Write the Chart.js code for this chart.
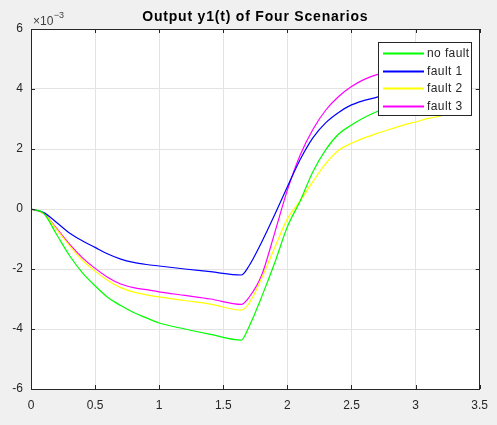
<!DOCTYPE html>
<html>
<head>
<meta charset="utf-8">
<script src="https://cdn.jsdelivr.net/npm/chart.js@4"></script>
<style>
html,body{margin:0;padding:0;background:#f0f0f0;}
#wrap{position:relative;width:497px;height:425px;}
canvas{display:block;}
</style>
</head>
<body>
<div id="wrap"><canvas id="c" width="497" height="425"></canvas></div>
<script>
// time axis (s)
const time = [0, 0.1, 0.2, 0.3, 0.4, 0.5, 0.6, 0.7, 0.8, 0.9, 1.0, 1.2, 1.4, 1.64, 1.7, 1.8, 1.9, 2.0, 2.1, 2.2, 2.3, 2.4, 2.5, 2.6, 2.7, 2.8, 2.9, 3.0, 3.1, 3.2];
// y1(t) in units of 1e-3
const noFault = [0, -0.15, -0.85, -1.55, -2.12, -2.56, -2.95, -3.22, -3.45, -3.63, -3.8, -4.0, -4.18, -4.37, -3.93, -2.92, -1.81, -0.59, 0.27, 1.25, 1.98, 2.5, 2.8, 3.05, 3.25, 3.42, 3.56, 3.67, 3.76, 3.83];
const fault1 = [0, -0.12, -0.45, -0.8, -1.06, -1.28, -1.5, -1.67, -1.78, -1.85, -1.9, -2.0, -2.09, -2.2, -1.9, -1.1, -0.2, 0.74, 1.65, 2.38, 2.88, 3.22, 3.47, 3.62, 3.73, 3.86, 3.96, 4.04, 4.1, 4.15];
const fault2 = [0, -0.15, -0.68, -1.22, -1.7, -2.07, -2.38, -2.62, -2.77, -2.86, -2.93, -3.05, -3.17, -3.37, -3.15, -2.3, -1.3, -0.33, 0.27, 0.92, 1.52, 1.96, 2.19, 2.37, 2.52, 2.66, 2.79, 2.9, 3.02, 3.1];
const fault3 = [0, -0.15, -0.65, -1.17, -1.62, -1.98, -2.28, -2.5, -2.62, -2.69, -2.76, -2.88, -3.0, -3.18, -2.95, -2.2, -0.81, 0.63, 1.8, 2.66, 3.3, 3.75, 4.08, 4.32, 4.48, 4.6, 4.7, 4.77, 4.82, 4.86];
const seriesNames = ["no fault", "fault 1", "fault 2", "fault 3"];
const seriesColors = ["#00ff00", "#0000ff", "#ffff00", "#ff00ff"];
const xTicks = [0, 0.5, 1, 1.5, 2, 2.5, 3, 3.5];
const yTicks = [-6, -4, -2, 0, 2, 4, 6];
const titleText = "Output y1(t) of Four Scenarios";
const exponentText = ["\u00d710", "\u22123"];

const FONT = "'Liberation Sans', Arial, Helvetica, sans-serif";
const AX = "#262626";

const seriesVals = [noFault, fault1, fault2, fault3];
const datasets = seriesVals.map((v, i) => ({
  label: seriesNames[i],
  data: time.map((t, k) => ({x: t, y: v[k]})),
  borderColor: seriesColors[i],
  backgroundColor: seriesColors[i],
  borderWidth: 1.2,
  pointRadius: 0,
  cubicInterpolationMode: 'monotone',
  fill: false
}));

const decor = {
  id: 'decor',
  beforeDraw(chart) {
    const {ctx, chartArea: a} = chart;
    ctx.save();
    ctx.fillStyle = '#ffffff';
    ctx.fillRect(a.left, a.top, a.right - a.left, a.bottom - a.top);
    ctx.restore();
  },
  afterDraw(chart) {
    const {ctx, chartArea: a, scales} = chart;
    ctx.save();
    // box
    ctx.strokeStyle = AX;
    ctx.lineWidth = 1;
    ctx.strokeRect(Math.round(a.left) + 0.5, Math.round(a.top) + 0.5, Math.round(a.right - a.left) - 1, Math.round(a.bottom - a.top));
    // inward ticks
    const tl = 4;
    ctx.beginPath();
    xTicks.forEach(v => {
      const x = Math.round(scales.x.getPixelForValue(v)) + 0.5;
      ctx.moveTo(x, a.bottom); ctx.lineTo(x, a.bottom - tl);
      ctx.moveTo(x, a.top); ctx.lineTo(x, a.top + tl);
    });
    yTicks.forEach(v => {
      const y = Math.round(scales.y.getPixelForValue(v)) + 0.5;
      ctx.moveTo(a.left, y); ctx.lineTo(a.left + tl, y);
      ctx.moveTo(a.right, y); ctx.lineTo(a.right - tl, y);
    });
    ctx.stroke();
    // title
    ctx.fillStyle = '#000';
    ctx.font = 'bold 14px ' + FONT;
    ctx.letterSpacing = '0.8px';
    ctx.textAlign = 'center';
    ctx.textBaseline = 'alphabetic';
    ctx.fillText(titleText, (a.left + a.right) / 2, 21);
    ctx.letterSpacing = '0px';
    // exponent
    ctx.fillStyle = '#404040';
    ctx.textAlign = 'left';
    ctx.font = '12px ' + FONT;
    ctx.fillText(exponentText[0], 33, 25);
    const w = ctx.measureText(exponentText[0]).width;
    ctx.font = '9px ' + FONT;
    ctx.fillText(exponentText[1], 33 + w + 0.5, 18);
    // legend
    const lx = 378.5, ly = 42.5, lw = 93, lh = 73;
    ctx.fillStyle = '#fff';
    ctx.fillRect(lx, ly, lw, lh);
    ctx.strokeStyle = AX;
    ctx.lineWidth = 1;
    ctx.strokeRect(lx, ly, lw, lh);
    ctx.font = '12px ' + FONT;
    ctx.letterSpacing = '0.4px';
    ctx.textBaseline = 'middle';
    seriesNames.forEach((n, i) => {
      const y = Math.round(53 + i * 17.6) + 0.5;
      ctx.beginPath();
      ctx.strokeStyle = seriesColors[i];
      ctx.lineWidth = 2;
      ctx.moveTo(383, y); ctx.lineTo(424, y);
      ctx.stroke();
      ctx.fillStyle = AX;
      ctx.fillText(n, 427, y + 0.5);
    });
    ctx.restore();
  }
};

new Chart(document.getElementById('c'), {
  type: 'line',
  data: {datasets},
  options: {
    responsive: false,
    animation: false,
    devicePixelRatio: 1,
    layout: {padding: {top: 29, right: 10, left: 0, bottom: 0}},
    plugins: {legend: {display: false}, title: {display: false}, tooltip: {enabled: false}},
    scales: {
      x: {
        type: 'linear', min: 0, max: 3.5,
        afterFit(s) { s.height = 36; },
        afterBuildTicks(s) { s.ticks = xTicks.map(v => ({value: v})); },
        grid: {color: '#e3e3e3', drawTicks: false, lineWidth: 1},
        border: {display: false},
        ticks: {color: AX, font: {family: FONT, size: 12}, padding: 9, maxRotation: 0,
          callback: v => String(v)}
      },
      y: {
        min: -6, max: 6,
        afterFit(s) { s.width = 31; },
        afterBuildTicks(s) { s.ticks = yTicks.map(v => ({value: v})); },
        grid: {color: '#e3e3e3', drawTicks: false, lineWidth: 1},
        border: {display: false},
        ticks: {color: AX, font: {family: FONT, size: 12}, padding: 8,
          callback: v => String(v)}
      }
    }
  },
  plugins: [decor]
});
</script>
</body>
</html>
